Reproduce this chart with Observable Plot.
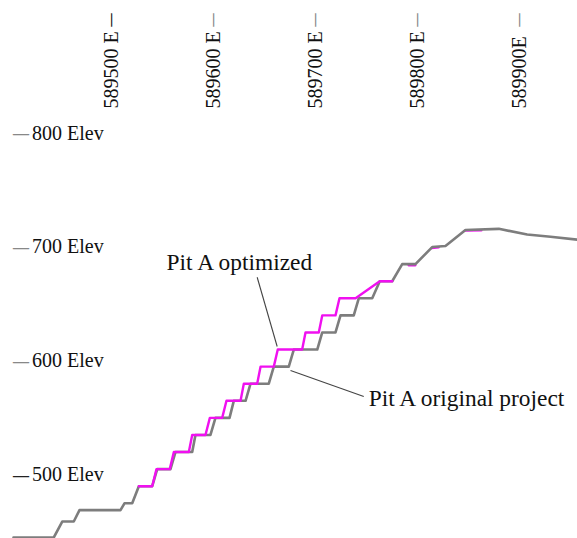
<!DOCTYPE html>
<html>
<head>
<meta charset="utf-8">
<script src="https://cdn.jsdelivr.net/npm/d3@7"></script>
<script src="https://cdn.jsdelivr.net/npm/@observablehq/plot@0.6"></script>
<style>
  html, body { margin: 0; padding: 0; background: #fff; }
  #chart svg { display: block; }
</style>
</head>
<body>
<div id="chart"></div>
<script>
// ---- Data ----
// Pit A original project section: easting (m) and elevation (m)
const origEasting = [589404.6, 589444.1, 589452.4, 589463.7, 589469.3, 589509.5, 589513.4, 589521.0,
  589527.5, 589540.6, 589545.5, 589558.5, 589563.4, 589579.8, 589583.0, 589597.7, 589602.6, 589616.4,
  589620.6, 589632.1, 589637.0, 589654.9, 589659.8, 589674.5, 589679.4, 589702.4, 589707.3, 589720.3,
  589725.2, 589738.2, 589743.1, 589756.3, 589763.7, 589775.9, 589785.7, 589798.7, 589815.1, 589828.1,
  589847.7, 589880.4, 589908.2, 589931.1, 589957.3];
const origElev = [445, 445, 459, 459, 469, 469, 475, 475,
  490, 490, 505, 505, 520, 520, 535, 535, 550, 550,
  565, 565, 580, 580, 595, 595, 610, 610, 625, 625,
  640, 640, 655, 655, 670, 670, 685, 685, 700, 701,
  715, 716, 711, 709, 706.5];

// Pit A optimized section (segment 0 = continuous part, 1-3 = short benches mostly under the original)
const optSegment = [0,0,0,0,0,0,0,0,0,0,0,0,0,0,0,0,0,0,0,0,0,0,0,0,0,0, 1,1, 2,2, 3,3];
const optEasting = [589527.5, 589540.6, 589544.8, 589557.8, 589561.8, 589576.5, 589579.8, 589592.8,
  589597.1, 589609.2, 589613.4, 589627.2, 589630.4, 589643.5, 589646.8, 589659.8, 589663.7, 589687.6,
  589690.9, 589703.9, 589707.3, 589720.3, 589724.2, 589740.0, 589763.7, 589775.9,
  589791.9, 589798.7, 589814.4, 589821.6, 589846.8, 589863.4];
const optElev = [490, 490, 505, 505, 520, 520, 535, 535,
  550, 550, 565, 565, 580, 580, 595, 595, 610, 610,
  625, 625, 640, 640, 655, 655, 670, 670,
  685, 685, 700, 700.8, 715.4, 715.6];

// Axis ticks and labels
const eastTicks = [589500, 589600, 589700, 589800, 589900];
const eastLabels = ["589500 E", "589600 E", "589700 E", "589800 E", "589900E"];
const elevTicks = [500, 600, 700, 800];
const elevLabels = ["500 Elev", "600 Elev", "700 Elev", "800 Elev"];

// Annotations: label, text anchor (easting, elevation), leader line from -> to
const annoLabels = ["Pit A optimized", "Pit A original project"];
const annoEasting = [589554.7, 589752.9];
const annoElev = [680.0, 560.2];
const leaderE1 = [589643.5, 589748.0];
const leaderZ1 = [673.5, 568.8];
const leaderE2 = [589663.1, 589676.2];
const leaderZ2 = [612.7, 591.6];

// ---- Build tables ----
const orig = origEasting.map((e, i) => ({e, z: origElev[i]}));
const opt = optEasting.map((e, i) => ({e, z: optElev[i], seg: optSegment[i]}));
const optMain = opt.filter(d => d.seg === 0);
const optUnder = opt.filter(d => d.seg !== 0);
const eastAxis = eastTicks.map((t, i) => ({t, label: eastLabels[i], first: i === 0}));
const elevAxis = elevTicks.map((t, i) => ({t, label: elevLabels[i], first: i === 0}));
const annos = annoLabels.map((label, i) => ({label, e: annoEasting[i], z: annoElev[i],
  e1: leaderE1[i], z1: leaderZ1[i], e2: leaderE2[i], z2: leaderZ2[i]}));

const font = "'Liberation Serif', 'Times New Roman', serif";

const chart = Plot.plot({
  width: 577,
  height: 538,
  margin: 0,
  style: {background: "#fff", fontFamily: font, overflow: "visible"},
  x: {domain: [589391.86, 589957.55], axis: null},
  y: {domain: [444.1, 916.5], axis: null},
  marks: [
    // top easting labels (rotated)
    Plot.text(eastAxis, {
      x: "t", text: "label", frameAnchor: "top", dy: 108, dx: 1,
      rotate: -90, textAnchor: "start", lineAnchor: "middle",
      fontSize: 20, fill: "#111", fontFamily: font
    }),
    Plot.text(eastAxis, {
      x: "t", text: () => "—", frameAnchor: "top", dy: 27, dx: 0.5,
      rotate: -90, textAnchor: "start", lineAnchor: "middle",
      fontSize: 15, fill: d => d.first ? "#222" : "#888", fontFamily: "'DejaVu Sans', sans-serif"
    }),
    // left elevation labels
    Plot.text(elevAxis, {
      y: "t", text: () => "—", frameAnchor: "left", dx: 11.5, dy: 0.5,
      textAnchor: "start", lineAnchor: "middle",
      fontSize: 18, fill: d => d.first ? "#222" : "#888", fontFamily: "'DejaVu Sans', sans-serif"
    }),
    Plot.text(elevAxis, {
      y: "t", text: "label", frameAnchor: "left", dx: 31.5,
      textAnchor: "start", lineAnchor: "middle",
      fontSize: 20, fill: "#111", fontFamily: font
    }),
    // sections
    Plot.line(optUnder, {x: "e", y: "z", z: "seg", stroke: "#f010f0", strokeWidth: 2.2, dy: 1.2, curve: "linear"}),
    Plot.line(orig, {x: "e", y: "z", stroke: "#7d7d7d", strokeWidth: 2.6, curve: "linear"}),
    Plot.line(optMain, {x: "e", y: "z", stroke: "#f010f0", strokeWidth: 2.4, curve: "linear"}),
    // leader lines and annotations
    Plot.link(annos, {x1: "e1", y1: "z1", x2: "e2", y2: "z2", stroke: "#444", strokeWidth: 1.1}),
    Plot.text(annos, {
      x: "e", y: "z", text: "label", textAnchor: "start", lineAnchor: "bottom",
      fontSize: 23.4, fill: "#111", fontFamily: font
    })
  ]
});

document.getElementById("chart").appendChild(chart);
</script>
</body>
</html>
